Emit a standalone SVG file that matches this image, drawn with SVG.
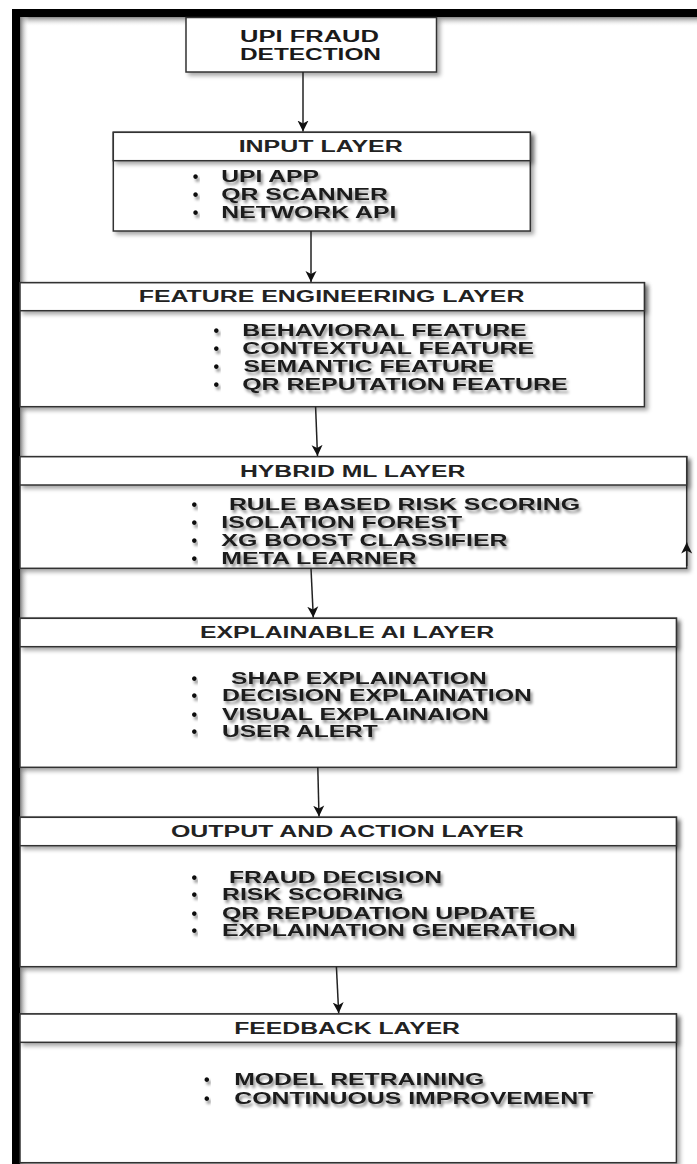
<svg xmlns="http://www.w3.org/2000/svg" width="697" height="1164" viewBox="0 0 697 1164">
<defs>
<filter id="boxsh" x="-10%" y="-10%" width="130%" height="140%">
<feDropShadow dx="3" dy="3" stdDeviation="2.2" flood-color="#000" flood-opacity="0.35"/>
</filter>
<filter id="txtsh" x="-5%" y="-30%" width="115%" height="180%">
<feDropShadow dx="2" dy="3" stdDeviation="1.4" flood-color="#000" flood-opacity="0.45"/>
</filter>
<linearGradient id="gtop" x1="0" y1="0" x2="0" y2="1">
<stop offset="0" stop-color="#777"/>
<stop offset="1" stop-color="#fff" stop-opacity="0"/>
</linearGradient>
<linearGradient id="gleft" x1="0" y1="0" x2="1" y2="0">
<stop offset="0" stop-color="#777"/>
<stop offset="1" stop-color="#fff" stop-opacity="0"/>
</linearGradient>
<marker id="arr" markerWidth="13" markerHeight="13" refX="11" refY="6.5" orient="auto" markerUnits="userSpaceOnUse">
<path d="M0,1 L11,6.5 L0,12 L3,6.5 z" fill="#111"/>
</marker>
<style>
.box{fill:#fff;stroke:#333;stroke-width:1.5;filter:url(#boxsh)}
.hd{fill:#fff;stroke:#333;stroke-width:1.5;filter:url(#boxsh)}
.t{font-family:"Liberation Sans",Arial,sans-serif;font-size:16px;font-weight:bold;fill:#1a1a1a}
.h{font-family:"Liberation Sans",Arial,sans-serif;font-size:16px;font-weight:bold;fill:#222}
.i{font-family:"Liberation Sans",Arial,sans-serif;font-size:16.5px;font-weight:bold;fill:#1a1a1a;filter:url(#txtsh)}
.b{font-family:"Liberation Sans",Arial,sans-serif;font-size:16px;font-weight:bold;fill:#111;text-anchor:middle;filter:url(#txtsh)}
.c{stroke:#222;stroke-width:1.5;fill:none;marker-end:url(#arr)}
</style>
</defs>
<rect width="697" height="1164" fill="#fff"/>
<!-- frame -->
<rect x="20" y="16.5" width="677" height="10" fill="url(#gtop)"/>
<rect x="20" y="16.5" width="9" height="1147.5" fill="url(#gleft)"/>
<rect x="12" y="9" width="685" height="8" fill="#000"/>
<rect x="12" y="9" width="8" height="1155" fill="#000"/>

<g id="node-title">
<rect class="box" x="186" y="17.5" width="250.5" height="54.5"/>
<text class="t" x="240" y="42" textLength="139" lengthAdjust="spacingAndGlyphs">UPI FRAUD</text>
<text class="t" x="240" y="60.3" textLength="141" lengthAdjust="spacingAndGlyphs">DETECTION</text>
</g>

<g id="node-input">
<rect class="box" x="113.3" y="132.3" width="417" height="98.7"/>
<rect class="hd" x="113.3" y="132.3" width="417" height="28.4"/>
<text class="h" x="238.7" y="152.3" textLength="164" lengthAdjust="spacingAndGlyphs">INPUT LAYER</text>
<text class="b" x="195.6" y="182">•</text>
<text class="i" x="221.3" y="182" textLength="97.7" lengthAdjust="spacingAndGlyphs">UPI APP</text>
<text class="b" x="195.6" y="199.6">•</text>
<text class="i" x="221.3" y="199.6" textLength="166.7" lengthAdjust="spacingAndGlyphs">QR SCANNER</text>
<text class="b" x="195.6" y="218">•</text>
<text class="i" x="221.3" y="218" textLength="175" lengthAdjust="spacingAndGlyphs">NETWORK API</text>
</g>

<g id="node-feature">
<rect class="box" x="20" y="282.7" width="624.4" height="124"/>
<rect class="hd" x="20" y="282.7" width="624.4" height="28"/>
<text class="h" x="138.7" y="302.3" textLength="385.7" lengthAdjust="spacingAndGlyphs">FEATURE ENGINEERING LAYER</text>
<text class="b" x="216.4" y="336.3">•</text>
<text class="i" x="242.2" y="336.3" textLength="284.5" lengthAdjust="spacingAndGlyphs">BEHAVIORAL FEATURE</text>
<text class="b" x="216.4" y="353.9">•</text>
<text class="i" x="242.2" y="353.9" textLength="291.8" lengthAdjust="spacingAndGlyphs">CONTEXTUAL FEATURE</text>
<text class="b" x="216.4" y="372">•</text>
<text class="i" x="243.6" y="372" textLength="250.6" lengthAdjust="spacingAndGlyphs">SEMANTIC FEATURE</text>
<text class="b" x="216.4" y="389.6">•</text>
<text class="i" x="242.2" y="389.6" textLength="325.4" lengthAdjust="spacingAndGlyphs">QR REPUTATION FEATURE</text>
</g>

<g id="node-hybrid">
<rect class="box" x="20" y="456.7" width="666.7" height="111.6"/>
<rect class="hd" x="20" y="456.7" width="666.7" height="28.3"/>
<text class="h" x="240" y="476.6" textLength="225.3" lengthAdjust="spacingAndGlyphs">HYBRID ML LAYER</text>
<text class="b" x="194.2" y="509.6">•</text>
<text class="i" x="228.9" y="509.6" textLength="351.1" lengthAdjust="spacingAndGlyphs">RULE BASED RISK SCORING</text>
<text class="b" x="194.2" y="527.6">•</text>
<text class="i" x="221.3" y="527.6" textLength="240.9" lengthAdjust="spacingAndGlyphs">ISOLATION FOREST</text>
<text class="b" x="194.2" y="546">•</text>
<text class="i" x="221.3" y="546" textLength="286.3" lengthAdjust="spacingAndGlyphs">XG BOOST CLASSIFIER</text>
<text class="b" x="194.2" y="563.6">•</text>
<text class="i" x="221.3" y="563.6" textLength="195.1" lengthAdjust="spacingAndGlyphs">META LEARNER</text>
</g>

<g id="node-xai">
<rect class="box" x="20" y="618.3" width="656.4" height="149"/>
<rect class="hd" x="20" y="618.3" width="656.4" height="28.4"/>
<text class="h" x="200" y="638" textLength="294.2" lengthAdjust="spacingAndGlyphs">EXPLAINABLE AI LAYER</text>
<text class="b" x="194.2" y="683.6">•</text>
<text class="i" x="231" y="683.6" textLength="255.7" lengthAdjust="spacingAndGlyphs">SHAP EXPLAINATION</text>
<text class="b" x="194.2" y="701.3">•</text>
<text class="i" x="222" y="701.3" textLength="310" lengthAdjust="spacingAndGlyphs">DECISION EXPLAINATION</text>
<text class="b" x="194.2" y="719.6">•</text>
<text class="i" x="222" y="719.6" textLength="266.9" lengthAdjust="spacingAndGlyphs">VISUAL EXPLAINAION</text>
<text class="b" x="194.2" y="737">•</text>
<text class="i" x="222" y="737" textLength="155.8" lengthAdjust="spacingAndGlyphs">USER ALERT</text>
</g>

<g id="node-output">
<rect class="box" x="20" y="817.3" width="656.4" height="149.4"/>
<rect class="hd" x="20" y="817.3" width="656.4" height="28.4"/>
<text class="h" x="171" y="837.3" textLength="352.6" lengthAdjust="spacingAndGlyphs">OUTPUT AND ACTION LAYER</text>
<text class="b" x="194.2" y="883">•</text>
<text class="i" x="229" y="883" textLength="213" lengthAdjust="spacingAndGlyphs">FRAUD DECISION</text>
<text class="b" x="194.2" y="900.3">•</text>
<text class="i" x="222" y="900.3" textLength="181.6" lengthAdjust="spacingAndGlyphs">RISK SCORING</text>
<text class="b" x="194.2" y="918.6">•</text>
<text class="i" x="222" y="918.6" textLength="313.6" lengthAdjust="spacingAndGlyphs">QR REPUDATION UPDATE</text>
<text class="b" x="194.2" y="936.3">•</text>
<text class="i" x="222" y="936.3" textLength="353.6" lengthAdjust="spacingAndGlyphs">EXPLAINATION GENERATION</text>
</g>

<g id="node-feedback">
<rect class="box" x="20" y="1014" width="656.4" height="148.7"/>
<rect class="hd" x="20" y="1014" width="656.4" height="28.3"/>
<text class="h" x="234.2" y="1033.8" textLength="225.8" lengthAdjust="spacingAndGlyphs">FEEDBACK LAYER</text>
<text class="b" x="206.7" y="1084.6">•</text>
<text class="i" x="234.2" y="1084.6" textLength="250.2" lengthAdjust="spacingAndGlyphs">MODEL RETRAINING</text>
<text class="b" x="206.7" y="1103.6">•</text>
<text class="i" x="234.2" y="1103.6" textLength="359.1" lengthAdjust="spacingAndGlyphs">CONTINUOUS IMPROVEMENT</text>
</g>

<g id="connectors">
<line class="c" x1="303" y1="72" x2="303" y2="131.5"/>
<line class="c" x1="311" y1="231" x2="311" y2="282"/>
<line class="c" x1="315.6" y1="406.7" x2="317.5" y2="456"/>
<line class="c" x1="311" y1="568.3" x2="313.3" y2="617.6"/>
<line class="c" x1="317.8" y1="767.3" x2="319" y2="816.6"/>
<line class="c" x1="336.4" y1="966.7" x2="338.7" y2="1013.3"/>
<line class="c" x1="686.7" y1="566" x2="686.7" y2="542.5"/>
</g>
</svg>
